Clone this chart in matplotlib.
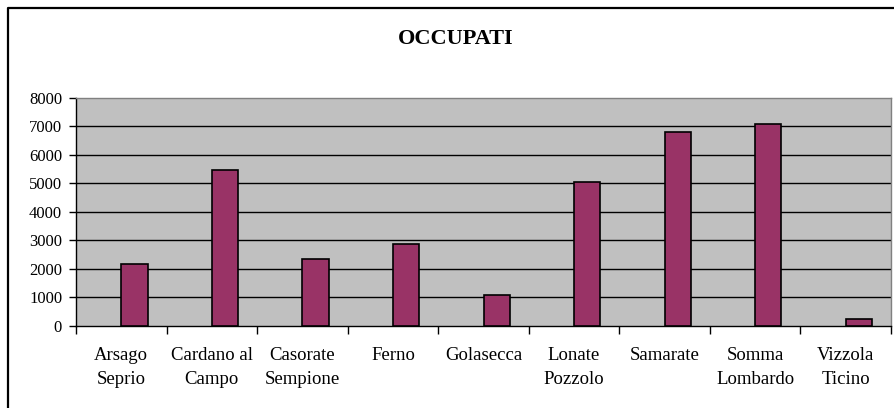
import matplotlib
matplotlib.use("Agg")
import matplotlib.pyplot as plt
from matplotlib.lines import Line2D
import numpy as np

categories = ["Arsago\nSeprio", "Cardano al\nCampo", "Casorate\nSempione", "Ferno",
              "Golasecca", "Lonate\nPozzolo", "Samarate", "Somma\nLombardo", "Vizzola\nTicino"]
occupati = [2190, 5450, 2340, 2860, 1090, 5030, 6800, 7070, 230]
yticks = [0, 1000, 2000, 3000, 4000, 5000, 6000, 7000, 8000]
title = "OCCUPATI"

W, H = 894, 408
fig = plt.figure(figsize=(W / 100, H / 100), dpi=100)
fig.patch.set_facecolor("white")
serif = ["Liberation Serif", "DejaVu Serif"]

ax = fig.add_axes([76 / W, 1 - 326 / H, (891 - 76) / W, (326 - 97.7) / H])
ax.set_facecolor("#C0C0C0")

x = np.arange(len(categories))
ax.bar(x, occupati, width=0.29, align="edge", color="#993366",
       edgecolor="black", linewidth=1.2, zorder=3)

ax.set_xlim(-0.5, len(categories) - 0.5)
ax.set_ylim(0, 8000)
ax.set_yticks(yticks)
ax.set_yticklabels([str(v) for v in yticks], fontsize=12, family=serif)
ax.tick_params(axis="y", length=5, width=1, pad=5, color="black")

ax.set_xticks(np.arange(-0.5, len(categories)), labels=[""] * (len(categories) + 1))
ax.tick_params(axis="x", which="major", length=6, width=1, color="black")
ax.set_xticks(x, minor=True)
ax.set_xticklabels(categories, minor=True, fontsize=13.5, family=serif, linespacing=1.55)
ax.tick_params(axis="x", which="minor", length=0, pad=15)

for v in yticks[1:-1]:
    ax.axhline(v, color="black", linewidth=1, zorder=1)

ax.spines["top"].set_color("#808080")
ax.spines["right"].set_color("#808080")
ax.spines["left"].set_color("black")
ax.spines["bottom"].set_color("black")
for s in ax.spines.values():
    s.set_linewidth(1)

fig.text(456 / W, 1 - 39 / H, title, ha="center", va="center",
         fontsize=16, fontweight="bold", family=serif)

fig.add_artist(Line2D([8 / W, 8 / W, 1], [0, 1 - 8 / H, 1 - 8 / H],
                      transform=fig.transFigure, color="black", linewidth=1.6))

fig.savefig("out.png", dpi=100)
